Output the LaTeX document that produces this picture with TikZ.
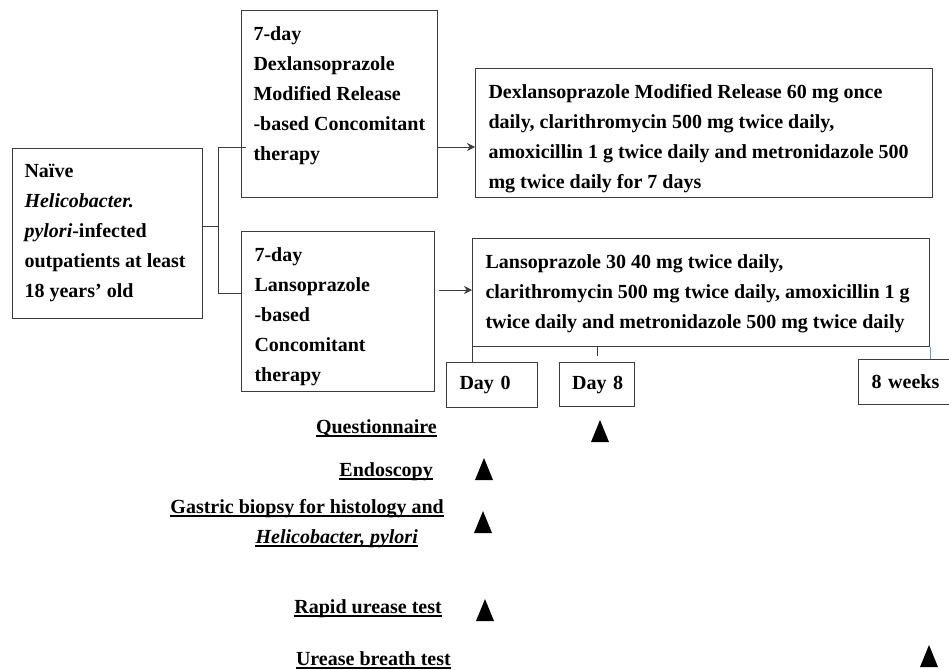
\documentclass[tikz,border=0pt]{standalone}
\usepackage{fontspec}
\setmainfont{Liberation Serif}
\usepackage{tikz}
\usetikzlibrary{arrows.meta}
\definecolor{boxgray}{RGB}{60,60,60}
\definecolor{tickblue}{RGB}{120,150,200}

\begin{document}
\begin{tikzpicture}[x=1pt,y=-1pt]%
\tikzstyle{armbox} = [draw=boxgray, line width=1.1pt, rectangle, anchor=north west,
    inner xsep=13pt, inner ysep=16pt, font=\fontsize{20}{30}\selectfont\bfseries]
\tikzstyle{daybox} = [draw=boxgray, line width=1.1pt, rectangle, anchor=north west,
    inner xsep=13pt, minimum height=45pt, align=left, font=\fontsize{20}{24}\selectfont\bfseries]
\tikzstyle{tag} = [anchor=base east, inner sep=0pt, font=\fontsize{20}{24}\selectfont\bfseries]
\tikzstyle{link} = [draw=boxgray, line width=0.9pt]
\tikzstyle{uline} = [line width=1.3pt]
\tikzset{tri/.pic={\fill (-9,0) -- (9,0) -- (0,-22) -- cycle;}}

\useasboundingbox (0,0) rectangle (949,669);

\node [armbox, inner xsep=12pt] (naive) at (12,148) {%
    \begin{minipage}[c][138pt][t]{166pt}
    Naïve\\
    \textit{Helicobacter.}\\
    \textit{pylori}-infected\\
    outpatients at least\\
    18 years’ old
    \end{minipage}
};
\node [armbox, inner xsep=12pt] (dexl) at (241,10) {%
    \begin{minipage}[c][155pt][t]{172pt}
    7-day\\
    Dexlansoprazole\\
    Modified Release\\
    -based Concomitant\\
    therapy
    \end{minipage}
};
\node [armbox] (lans) at (241,231) {%
    \begin{minipage}[c][128pt][t]{167pt}
    7-day\\
    Lansoprazole\\
    -based\\
    Concomitant\\
    therapy
    \end{minipage}
};
\node [armbox] (regD) at (475,68) {%
    \begin{minipage}[c][97pt][t]{431pt}
    Dexlansoprazole Modified Release 60 mg once\\
    daily, clarithromycin 500 mg twice daily,\\
    amoxicillin 1 g twice daily and metronidazole 500\\
    mg twice daily for 7 days
    \end{minipage}
};
\node [armbox] (regE) at (472,238) {%
    \begin{minipage}[c][76pt][t]{431pt}
    Lansoprazole 30 40 mg twice daily,\\
    clarithromycin 500 mg twice daily, amoxicillin 1 g\\
    twice daily and metronidazole 500 mg twice daily
    \end{minipage}
};

\node [daybox, text width=65pt] (day0) at (446,362) {Day~0};
\node [daybox, inner xsep=12.5pt, minimum height=44pt, text width=50pt] (day8) at (559,362) {Day~8};
\node [daybox, text width=90pt] (week8) at (858,359) {8~weeks};

% branching and arrows
\coordinate (fork) at (218,226);
\coordinate (topfork) at (218,147);
\coordinate (lowfork) at (218,293);
\coordinate (armD) at (456,147);
\coordinate (armE) at (455,290);
\draw [link] (naive.east |- fork) -- (fork);
\draw [link] (dexl.west |- topfork) ++(5,0) -- (topfork) -- (lowfork) -- (lans.west |- lowfork);
\draw [link, -{Stealth[length=8pt,width=8pt]}] (dexl.east |- armD) -- (regD.west |- armD);
\draw [link, -{Stealth[length=8pt,width=8pt]}] (lans.east |- armE) ++(4,0) -- (regE.west |- armE);

\draw [link] (regE.south west) -- (regE.south west |- day0.north);
\draw [link] (regE.south -| day8.north) -- ++(0,9);
\draw [link, draw=tickblue] (regE.south east) -- (regE.south east |- week8.north);

% assessments
\node [tag] (quest) at (437,433) {Questionnaire};
\node [tag] (endo) at (433,476) {Endoscopy};
\node [tag] (gastric) at (444,513) {Gastric biopsy for histology and};
\node [tag] (helico) at (418,543) {\textit{Helicobacter, pylori}\ };
\node [tag] (rapid) at (442,613) {Rapid urease test};
\node [tag] (breath) at (451,665) {Urease breath test};
\foreach \n in {quest,endo,gastric,helico,rapid,breath}
    \draw [uline] ([yshift=-3pt]\n.base west) -- ([yshift=-3pt]\n.base east);

\pic at (600,442) {tri};
\pic at (484,480) {tri};
\pic at (483,533) {tri};
\pic at (485,621) {tri};
\pic at (929,667) {tri};
\end{tikzpicture}
\end{document}
